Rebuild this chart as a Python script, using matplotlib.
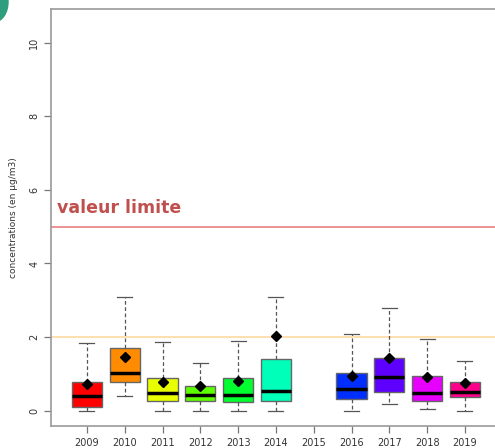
import matplotlib.pyplot as plt
import matplotlib.patches as mpatches

years = ['2009', '2010', '2011', '2012', '2013', '2014', '2015', '2016', '2017', '2018', '2019']
q1 = [0.09, 0.77, 0.25, 0.25, 0.23, 0.27, None, 0.33, 0.52, 0.27, 0.37]
med = [0.40, 1.02, 0.48, 0.42, 0.42, 0.54, None, 0.58, 0.91, 0.47, 0.51]
q3 = [0.79, 1.69, 0.90, 0.67, 0.90, 1.40, None, 1.02, 1.43, 0.94, 0.77]
whislo = [0.0, 0.40, 0.0, 0.0, 0.0, 0.0, None, 0.0, 0.17, 0.05, 0.0]
whishi = [1.83, 3.10, 1.87, 1.29, 1.89, 3.10, None, 2.08, 2.78, 1.96, 1.36]
means = [0.72, 1.47, 0.77, 0.68, 0.81, 2.04, None, 0.95, 1.43, 0.91, 0.74]
colors = ['#FF0000', '#FF8B00', '#E8FF00', '#5DFF00', '#00FF2E', '#00FFB9',
          '#00B9FF', '#002EFF', '#5D00FF', '#E800FF', '#FF008B']
limit_value = 5
target_value = 2

fig = plt.figure(figsize=(4.95, 4.48), dpi=100)
ax = fig.add_axes([51 / 495, 22.3 / 448, 451.7 / 495, 416.7 / 448])

stats, pos, fills = [], [], []
for i, y in enumerate(years):
    if med[i] is None:
        continue
    stats.append(dict(label=y, q1=q1[i], med=med[i], q3=q3[i],
                      whislo=whislo[i], whishi=whishi[i], mean=means[i], fliers=[]))
    pos.append(i + 1)
    fills.append(colors[i])

bp = ax.bxp(stats, positions=pos, widths=0.8, patch_artist=True, showmeans=True,
            boxprops=dict(edgecolor='#666666', linewidth=1),
            medianprops=dict(color='black', linewidth=2.5),
            whiskerprops=dict(color='#555555', linestyle=(0, (3, 2)), linewidth=0.9),
            capprops=dict(color='#555555', linewidth=0.9),
            meanprops=dict(marker='D', markerfacecolor='black', markeredgecolor='black',
                           markersize=5.5))
for patch, c in zip(bp['boxes'], fills):
    patch.set_facecolor(c)
for cap in bp['caps']:
    xs = cap.get_xdata()
    mid = (xs[0] + xs[1]) / 2
    cap.set_xdata([mid - 0.2, mid + 0.2])

ax.axhline(limit_value, color='#E88080', linewidth=1.2, zorder=0)
ax.axhline(target_value, color='#FFD9A0', linewidth=1.2, zorder=0)
ax.text(0.2, limit_value + 0.25, 'valeur limite', color='#C0504D', fontsize=12.5,
        fontweight='bold', ha='left', va='bottom')

ax.set_xlim(0.05, 12.0)
ax.set_ylim(-0.408, 10.916)
ax.set_xticks(range(1, len(years) + 1))
ax.set_xticklabels(years)
ax.set_yticks([0, 2, 4, 6, 8, 10])
ax.set_yticklabels(['0', '2', '4', '6', '8', '10'], rotation=90, va='center')
ax.tick_params(axis='both', colors='#777777', labelcolor='#333333', labelsize=7,
               length=5, width=0.9)
ax.tick_params(axis='x', pad=4)
ax.set_ylabel('concentrations (en µg/m3)', fontsize=6.5, color='#333333', labelpad=8)
for s in ['left', 'bottom', 'top']:
    ax.spines[s].set_color('#999999')
    ax.spines[s].set_linewidth(1.2)
ax.spines['right'].set_visible(False)

# small teal badge in the corner
fig.patches.append(mpatches.Ellipse((-6 / 495, 1 - 2 / 448), 28 / 495, 40 / 448,
                                    transform=fig.transFigure, color='#2E9E7E'))

fig.savefig('out.png', dpi=100)
